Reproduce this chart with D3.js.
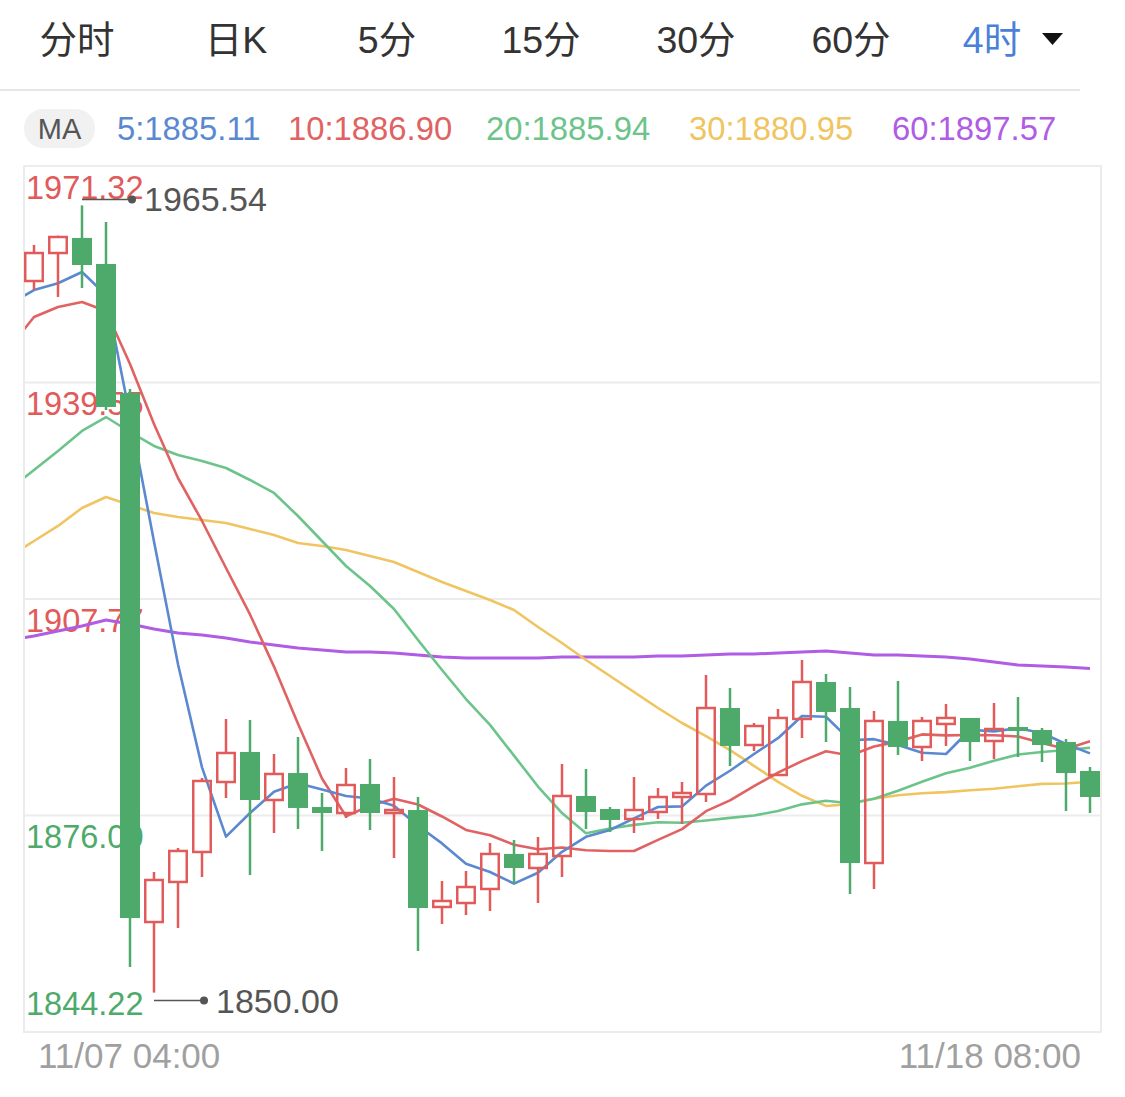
<!DOCTYPE html>
<html><head><meta charset="utf-8">
<script src="https://cdn.jsdelivr.net/npm/d3@7"></script>
<style>
html,body{margin:0;padding:0;background:#fff;}
svg{display:block;}
</style></head><body>
<svg id="chart" width="1125" height="1097"></svg>
<script>
// ---------- data ----------
const tabs = ["分时", "日K", "5分", "15分", "30分", "60分", "4时"];
const activeTab = "4时";
const maNames = ["5", "10", "20", "30", "60"];
const maLegendValues = ["1885.11", "1886.90", "1885.94", "1880.95", "1897.57"];
const yTickValues = [1971.32, 1939.55, 1907.77, 1876.00, 1844.22];
const yTickLabels = ["1971.32", "1939.55", "1907.77", "1876.00", "1844.22"];
const xLabels = ["11/07 04:00", "11/18 08:00"];

const open = [1954.44, 1958.55, 1960.76, 1956.94, 1938.01, 1860.36, 1866.24, 1870.64, 1880.91, 1885.32,
  1878.27, 1882.23, 1877.24, 1876.36, 1880.62, 1876.36, 1876.80, 1862.57, 1863.15, 1865.21,
  1870.35, 1868.29, 1870.05, 1878.86, 1876.95, 1875.48, 1876.51, 1878.71, 1879.15, 1891.77,
  1886.34, 1881.94, 1890.16, 1895.59, 1891.77, 1869.02, 1889.87, 1886.05, 1889.43, 1890.31,
  1886.93, 1888.98, 1888.54, 1886.78, 1882.53];
const high = [1959.73, 1961.10, 1965.54, 1963.10, 1938.59, 1867.70, 1871.23, 1881.50, 1890.16, 1890.01,
  1885.02, 1887.52, 1879.30, 1882.97, 1884.29, 1881.65, 1878.71, 1866.38, 1867.85, 1871.96,
  1872.40, 1872.84, 1883.55, 1882.82, 1877.24, 1881.65, 1880.03, 1880.91, 1896.62, 1894.71,
  1889.57, 1891.63, 1898.82, 1896.76, 1894.86, 1891.33, 1895.74, 1890.45, 1892.36, 1890.31,
  1892.51, 1893.39, 1888.84, 1887.22, 1883.11];
const low = [1953.12, 1952.10, 1953.42, 1935.51, 1853.76, 1850.00, 1859.48, 1866.97, 1878.56, 1867.26,
  1873.43, 1874.01, 1870.79, 1875.63, 1873.87, 1869.76, 1856.11, 1860.07, 1861.39, 1861.98,
  1866.09, 1863.15, 1866.97, 1874.01, 1873.57, 1873.43, 1875.48, 1874.75, 1877.98, 1883.26,
  1885.46, 1881.79, 1887.37, 1886.78, 1864.47, 1865.21, 1884.88, 1883.99, 1886.20, 1883.99,
  1884.29, 1884.58, 1883.85, 1876.66, 1876.36];
const close = [1958.55, 1960.90, 1956.79, 1935.95, 1860.95, 1866.53, 1870.79, 1881.06, 1885.17, 1878.27,
  1882.09, 1877.10, 1876.36, 1880.47, 1876.36, 1876.80, 1862.42, 1863.45, 1865.50, 1870.35,
  1868.29, 1870.35, 1878.86, 1876.51, 1875.34, 1876.80, 1878.71, 1879.30, 1891.77, 1886.20,
  1889.13, 1890.31, 1895.59, 1891.19, 1869.02, 1889.87, 1886.05, 1889.87, 1890.31, 1886.78,
  1888.69, 1888.40, 1886.34, 1882.23, 1878.71];

// moving averages: first value belongs to the bar just left of the visible window (index -1)
const ma5 = [1951.07, 1953.12, 1954.11, 1955.77, 1952.39, 1934.63, 1916.22, 1898.20, 1883.06, 1872.90,
  1876.36, 1879.48, 1880.74, 1879.80, 1878.86, 1878.48, 1877.42, 1874.48, 1871.90, 1868.91,
  1867.70, 1866.00, 1867.59, 1870.67, 1872.87, 1873.87, 1875.57, 1877.24, 1877.33, 1880.38,
  1882.56, 1885.02, 1887.34, 1890.60, 1890.48, 1887.05, 1887.20, 1886.34, 1885.20, 1885.02,
  1888.58, 1888.34, 1888.81, 1888.10, 1886.49, 1885.11];
const ma10 = [1944.76, 1949.16, 1950.63, 1951.36, 1950.04, 1942.26, 1933.46, 1925.53, 1919.22, 1912.32,
  1905.50, 1897.85, 1889.47, 1881.43, 1875.88, 1877.42, 1878.45, 1877.61, 1875.85, 1873.88,
  1873.09, 1871.71, 1871.04, 1871.29, 1870.89, 1870.79, 1870.79, 1872.42, 1874.00, 1876.63,
  1878.21, 1880.30, 1882.29, 1883.97, 1885.43, 1884.80, 1886.11, 1886.84, 1887.90, 1887.75,
  1887.81, 1887.77, 1887.58, 1886.65, 1885.76, 1886.90];
const ma20 = [1923.92, 1926.70, 1929.49, 1932.43, 1934.48, 1932.28, 1930.23, 1928.91, 1928.03, 1927.00,
  1925.24, 1923.33, 1919.95, 1916.28, 1912.61, 1909.68, 1906.30, 1901.75, 1897.35, 1893.09,
  1889.29, 1884.78, 1880.25, 1876.36, 1873.38, 1874.10, 1874.62, 1875.01, 1874.93, 1875.26,
  1875.65, 1876.00, 1876.66, 1877.63, 1878.16, 1877.79, 1878.45, 1879.63, 1880.95, 1882.19,
  1883.01, 1884.03, 1884.94, 1885.31, 1885.60, 1885.94];
const ma30 = [1914.08, 1916.28, 1918.49, 1921.13, 1922.74, 1921.57, 1920.39, 1919.81, 1919.37, 1918.93,
  1918.05, 1917.16, 1915.99, 1915.55, 1914.96, 1914.08, 1913.20, 1911.73, 1910.27, 1908.95,
  1907.62, 1906.16, 1903.66, 1901.31, 1898.82, 1896.47, 1894.12, 1891.77, 1889.57, 1887.66,
  1885.60, 1883.29, 1880.93, 1878.89, 1877.40, 1877.67, 1878.45, 1878.96, 1879.25, 1879.42,
  1879.71, 1879.93, 1880.30, 1880.63, 1880.69, 1880.95];
const ma60 = [1901.75, 1902.34, 1903.07, 1903.81, 1904.69, 1904.10, 1903.37, 1902.78, 1902.49, 1902.05,
  1901.46, 1901.02, 1900.58, 1900.29, 1899.99, 1899.99, 1899.85, 1899.55, 1899.26, 1899.11,
  1899.11, 1899.11, 1899.11, 1899.26, 1899.26, 1899.26, 1899.26, 1899.41, 1899.41, 1899.55,
  1899.70, 1899.70, 1899.85, 1899.99, 1900.14, 1899.85, 1899.55, 1899.55, 1899.41, 1899.26,
  1898.97, 1898.52, 1898.08, 1897.94, 1897.79, 1897.57];

// ---------- style ----------
const UP = "#e15b5b", DOWN = "#4eaa6b";
const maColors = ["#5b89d0", "#e06262", "#6dc48b", "#f0c561", "#b05ce4"];
const NUM_FONT = "'Liberation Sans', Arial, 'Noto Sans CJK SC', sans-serif";

const svg = d3.select("#chart");
const plot = {left: 24, right: 1101, top: 166, bottom: 1032};

const n = close.length;
const x = d3.scaleLinear().domain([0, n - 1]).range([34, 1090]);
const y = d3.scaleLinear().domain([yTickValues[4], yTickValues[0]]).range([plot.bottom, plot.top]);

// ---------- tabs ----------
const tabX = [77, 236, 387, 541, 696, 851, 992];
svg.append("g").selectAll("text").data(tabs).join("text")
  .attr("x", (d, i) => tabX[i]).attr("y", 53)
  .attr("text-anchor", "middle")
  .attr("font-family", NUM_FONT).attr("font-size", 37.5)
  .attr("fill", d => d === activeTab ? "#4a80d9" : "#333")
  .text(d => d);
svg.append("path").attr("d", "M1042,33 L1063,33 L1052.5,45 Z").attr("fill", "#111");
svg.append("line").attr("x1", 0).attr("x2", 1080).attr("y1", 90).attr("y2", 90)
  .attr("stroke", "#e6e6e6").attr("stroke-width", 2);

// ---------- MA legend ----------
svg.append("rect").attr("x", 24).attr("y", 109).attr("width", 71).attr("height", 39)
  .attr("rx", 19).attr("fill", "#f1f1f1");
svg.append("text").attr("x", 59.5).attr("y", 139).attr("text-anchor", "middle")
  .attr("font-family", NUM_FONT).attr("font-size", 29).attr("fill", "#555").text("MA");
const legX = [117, 288, 486, 689, 892];
svg.append("g").selectAll("text").data(maNames).join("text")
  .attr("x", (d, i) => legX[i]).attr("y", 139.5)
  .attr("font-family", NUM_FONT).attr("font-size", 32.8)
  .attr("fill", (d, i) => maColors[i])
  .text((d, i) => d + ":" + maLegendValues[i]);

// ---------- frame & grid ----------
svg.append("rect").attr("x", plot.left).attr("y", plot.top)
  .attr("width", plot.right - plot.left).attr("height", plot.bottom - plot.top)
  .attr("fill", "none").attr("stroke", "#ececec").attr("stroke-width", 2);
svg.append("g").selectAll("line").data(yTickValues.slice(1, 4)).join("line")
  .attr("x1", plot.left).attr("x2", plot.right)
  .attr("y1", d => y(d)).attr("y2", d => y(d))
  .attr("stroke", "#ececec").attr("stroke-width", 2);

// y labels (under the marks)
svg.append("g").selectAll("text").data(yTickValues).join("text")
  .attr("x", 26)
  .attr("y", (d, i) => i === 4 ? y(d) - 17 : y(d) + 32.5)
  .attr("font-family", NUM_FONT).attr("font-size", 32.5)
  .attr("fill", (d, i) => i < 3 ? UP : DOWN)
  .text((d, i) => yTickLabels[i]);

// ---------- MA lines ----------
svg.append("defs").append("clipPath").attr("id", "clip")
  .append("rect").attr("x", plot.left + 1).attr("y", plot.top).attr("width", plot.right - plot.left - 2)
  .attr("height", plot.bottom - plot.top);
const line = d3.line().x((d, i) => x(i - 1)).y(d => y(d));
const maSeries = [ma5, ma10, ma20, ma30, ma60];
const lg = svg.append("g").attr("clip-path", "url(#clip)");
maSeries.slice().reverse().forEach((s, k) => {
  const idx = maSeries.length - 1 - k;
  lg.append("path").attr("d", line(s)).attr("fill", "none")
    .attr("stroke", maColors[idx]).attr("stroke-width", idx === 4 ? 3 : 2.6)
    .attr("stroke-linejoin", "round");
});

// ---------- candles ----------
const half = 10;
const cg = svg.append("g");
d3.range(n).forEach(i => {
  const up = close[i] >= open[i];
  const cx = x(i);
  const top = y(Math.max(open[i], close[i]));
  const bot = y(Math.min(open[i], close[i]));
  if (up) {
    cg.append("line").attr("x1", cx).attr("x2", cx).attr("y1", y(high[i])).attr("y2", top)
      .attr("stroke", UP).attr("stroke-width", 2.5);
    cg.append("line").attr("x1", cx).attr("x2", cx).attr("y1", bot).attr("y2", y(low[i]))
      .attr("stroke", UP).attr("stroke-width", 2.5);
    cg.append("rect").attr("x", cx - half + 1.25).attr("y", top)
      .attr("width", 2 * half - 2.5).attr("height", Math.max(bot - top, 1))
      .attr("fill", "none").attr("stroke", UP).attr("stroke-width", 2.5);
  } else {
    cg.append("line").attr("x1", cx).attr("x2", cx).attr("y1", y(high[i])).attr("y2", y(low[i]))
      .attr("stroke", DOWN).attr("stroke-width", 2.5);
    cg.append("rect").attr("x", cx - half).attr("y", top)
      .attr("width", 2 * half).attr("height", Math.max(bot - top, 2))
      .attr("fill", DOWN);
  }
});

// ---------- max / min annotations ----------
const iMax = d3.maxIndex(high), iMin = d3.minIndex(low);
function annotate(i, val, dy) {
  const cx = x(i), yy = y(val) + dy;
  svg.append("line").attr("x1", cx).attr("x2", cx + 50).attr("y1", yy).attr("y2", yy)
    .attr("stroke", "#555").attr("stroke-width", 1.5);
  svg.append("circle").attr("cx", cx + 50).attr("cy", yy).attr("r", 4).attr("fill", "#555");
  svg.append("text").attr("x", cx + 62).attr("y", yy + 12)
    .attr("font-family", NUM_FONT).attr("font-size", 34).attr("fill", "#555")
    .text(val.toFixed(2));
}
annotate(iMax, high[iMax], -6);
annotate(iMin, low[iMin], 8);

// ---------- x labels ----------
svg.append("text").attr("x", 38).attr("y", 1068)
  .attr("font-family", NUM_FONT).attr("font-size", 35).attr("fill", "#a0a0a0").text(xLabels[0]);
svg.append("text").attr("x", 1081).attr("y", 1068).attr("text-anchor", "end")
  .attr("font-family", NUM_FONT).attr("font-size", 35).attr("fill", "#a0a0a0").text(xLabels[1]);
</script>
</body></html>
